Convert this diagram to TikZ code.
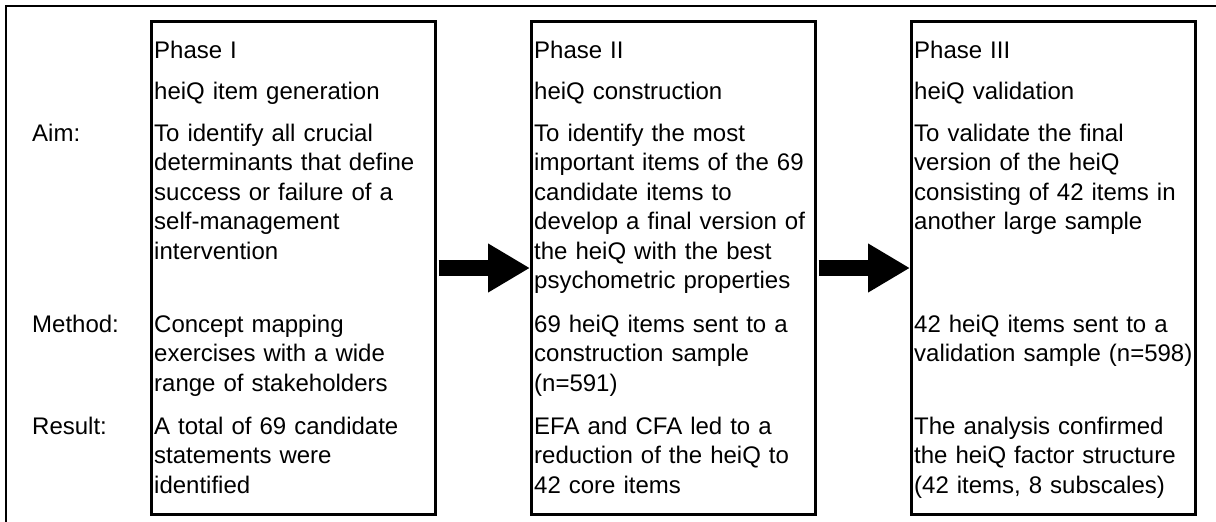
\documentclass[tikz,border=0pt]{standalone}
\usepackage{fontspec}
\setmainfont{Liberation Sans}
\usetikzlibrary{arrows.meta}

\tikzset{
  phasebox/.style={draw, line width=3pt, minimum width=284pt, minimum height=493pt,
    anchor=north west, inner sep=0pt},
  celltext/.style={anchor=base west, inner sep=0pt, text width=300pt, align=left,
    font=\fontsize{24pt}{29.5pt}\selectfont},
  rowlabel/.style={anchor=base west, inner sep=0pt,
    font=\fontsize{24pt}{29.5pt}\selectfont},
  blockarrow/.style={line width=16pt,
    -{Triangle[length=42pt,width=46pt]}, shorten <=1.5pt},
}

\begin{document}
\begin{tikzpicture}[x=1pt,y=-1pt]
\useasboundingbox (0,0) rectangle (1216,522);

% outer frame (top and left rules)
\draw[line width=2pt] (6,522) -- (6,6) -- (1216,6);

% the three phase boxes
\node[phasebox] (box1) at (150,20) {};
\node[phasebox] (box2) at (530,20) {};
\node[phasebox] (box3) at (910,20) {};

% row baselines
\def\yphase{58}
\def\yname{99}
\def\yaim{141}
\def\ymethod{332}
\def\yresult{434}

% row labels
\node[rowlabel] (laim) at (32,\yaim) {Aim:};
\node[rowlabel] (lmethod) at (32,\ymethod) {Method:};
\node[rowlabel] (lresult) at (32,\yresult) {Result:};

% Phase I
\node[celltext] (p1phase) at (154,\yphase) {Phase I};
\node[celltext] (p1name) at (154,\yname) {heiQ item generation};
\node[celltext] (p1aim) at (154,\yaim) {To identify all crucial\\determinants that define\\success or failure of a\\self-management\\intervention};
\node[celltext] (p1method) at (154,\ymethod) {Concept mapping\\exercises with a wide\\range of stakeholders};
\node[celltext] (p1result) at (154,\yresult) {A total of 69 candidate\\statements were\\identified};

% Phase II
\node[celltext] (p2phase) at (534,\yphase) {Phase II};
\node[celltext] (p2name) at (534,\yname) {heiQ construction};
\node[celltext] (p2aim) at (534,\yaim) {To identify the most\\important items of the 69\\candidate items to\\develop a final version of\\the heiQ with the best\\psychometric properties};
\node[celltext] (p2method) at (534,\ymethod) {69 heiQ items sent to a\\construction sample\\(n=591)};
\node[celltext] (p2result) at (534,\yresult) {EFA and CFA led to a\\reduction of the heiQ to\\42 core items};

% Phase III
\node[celltext] (p3phase) at (914,\yphase) {Phase III};
\node[celltext] (p3name) at (914,\yname) {heiQ validation};
\node[celltext] (p3aim) at (914,\yaim) {To validate the final\\version of the heiQ\\consisting of 42 items in\\another large sample};
\node[celltext] (p3method) at (914,\ymethod) {42 heiQ items sent to a\\validation sample (n=598)};
\node[celltext] (p3result) at (914,\yresult) {The analysis confirmed\\the heiQ factor structure\\(42 items, 8 subscales)};

% block arrows between the phases
\coordinate (arrowy) at (0,268);
\draw[blockarrow] (box1.east |- arrowy) -- (box2.west |- arrowy);
\draw[blockarrow] (box2.east |- arrowy) -- (box3.west |- arrowy);
\end{tikzpicture}
\end{document}
